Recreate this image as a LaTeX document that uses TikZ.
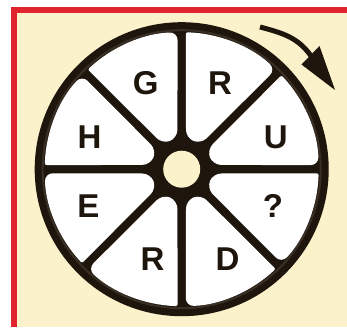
\documentclass[tikz,border=0pt]{standalone}
\usepackage{fontspec}
\setmainfont{Liberation Sans}
\definecolor{cream}{HTML}{FBF1CA}
\definecolor{frame}{HTML}{E0232D}
\definecolor{ink}{HTML}{1E150C}
\definecolor{rim}{HTML}{3A2F25}

\begin{document}
\begin{tikzpicture}[x=1pt, y=1pt,
  seg/.style={fill=white, rounded corners=2pt},
  letter/.style={font=\fontsize{33}{33}\selectfont\bfseries, text=ink, inner sep=0pt},
  hubdisc/.style={circle, fill=cream, minimum size=37pt, inner sep=0pt}]
\useasboundingbox (0,0) rectangle (347,327);
% panel
\fill[cream] (11,0) rectangle (347,320);
\fill[frame] (11,0) rectangle (16.7,320);
\fill[frame] (11,314.3) rectangle (347,320);
% wheel
\coordinate (hub) at (181.7,157.8);
\fill[ink] (hub) circle[radius=147];
\draw[rim, line width=2pt] (hub) circle[radius=139];
\foreach \a in {22.5,67.5,...,337.5}
  \fill[seg, shift={(hub)}, rotate=\a] (-20.8:137) arc[start angle=-20.8, end angle=20.8, radius=137]
    [rounded corners=8pt] -- (30.6,8.0) -- (30.6,-8.0) -- cycle;
\node[hubdisc] (centre) at (hub) {};
% letters
\node[letter] (g) at (145.8,244.2) {G};
\node[letter] (r1) at (220,243.7) {R};
\node[letter] (h) at (89.5,190) {H};
\node[letter] (u) at (275.7,190) {U};
\node[letter] (e) at (88.3,121) {E};
\node[letter] (q) at (273,121) {?};
\node[letter] (r2) at (152.5,67.5) {R};
\node[letter] (d) at (227.5,67.5) {D};
% turning arrow
\coordinate (arrowtail) at (260,300);
\coordinate (arrowbase) at (311,271);
\coordinate (arrowtip) at (335,237);
\draw[ink, line width=5pt] (arrowtail) to[out=-15, in=125] (arrowbase);
\fill[ink] (arrowtip) -- (301.5,262.5) -- (319.5,281) -- cycle;
\end{tikzpicture}
\end{document}
